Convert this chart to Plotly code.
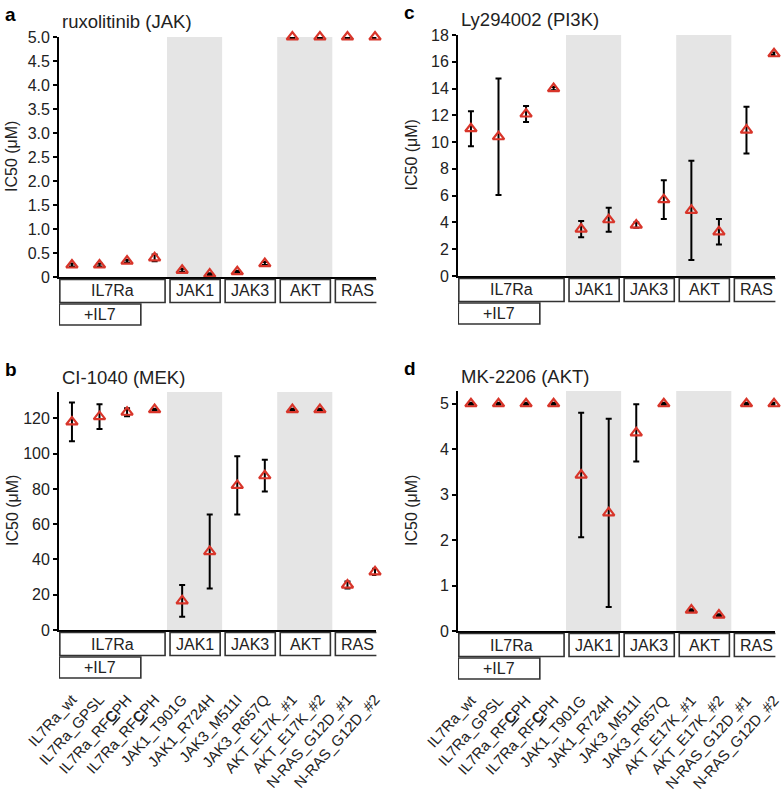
import plotly.graph_objects as go

W, H = 784, 795

# ---------------- data ----------------
cell_lines = ["IL7Ra_wt", "IL7Ra_GPSL", "IL7Ra_RF<b><u>C</u></b>PH", "IL7Ra_RF<b><u>C</u></b>PH",
              "JAK1_T901G", "JAK1_R724H", "JAK3_M511I", "JAK3_R657Q",
              "AKT_E17K_#1", "AKT_E17K_#2", "N-RAS_G12D_#1", "N-RAS_G12D_#2"]

groups = ["IL7Ra", "JAK1", "JAK3", "AKT", "RAS"]
group_first = [0, 4, 6, 8, 10]
group_last = [3, 5, 7, 9, 11]
shaded_groups = ["JAK1", "AKT"]
il7_first, il7_last = 0, 2

rux_ic50 = [0.25, 0.25, 0.33, 0.40, 0.14, 0.06, 0.11, 0.28, 5.0, 5.0, 5.0, 5.0]
rux_err = [0.03, 0.03, 0.03, 0.07, 0.03, 0.02, 0.02, 0.03, 0.02, 0.02, 0.02, 0.02]

ly_ic50 = [11.0, 10.4, 12.1, 14.0, 3.5, 4.2, 3.8, 5.7, 4.9, 3.3, 10.9, 16.6]
ly_err = [1.3, 4.35, 0.6, 0.12, 0.6, 0.9, 0.2, 1.45, 3.7, 0.95, 1.75, 0.1]

ci_ic50 = [118, 121, 123.5, 125, 16.5, 44.5, 82, 87.5, 125, 125, 25.5, 33]
ci_err = [11, 7, 2.3, 0.5, 9, 21, 16.5, 9, 0.5, 0.5, 2, 1.8]

mk_ic50 = [5.0, 5.0, 5.0, 5.0, 3.43, 2.6, 4.36, 5.0, 0.46, 0.35, 5.0, 5.0]
mk_err = [0.02, 0.02, 0.02, 0.02, 1.37, 2.07, 0.63, 0.02, 0.02, 0.02, 0.02, 0.02]

a_ticks = [0, 0.5, 1.0, 1.5, 2.0, 2.5, 3.0, 3.5, 4.0, 4.5, 5.0]
a_ticktext = ["0", "0.5", "1.0", "1.5", "2.0", "2.5", "3.0", "3.5", "4.0", "4.5", "5.0"]
c_ticks = [0, 2, 4, 6, 8, 10, 12, 14, 16, 18]
b_ticks = [0, 20, 40, 60, 80, 100, 120]
d_ticks = [0, 1, 2, 3, 4, 5]

# ---------------- layout helpers ----------------
FONT = "Liberation Sans, Arial, sans-serif"
TXT = "#222222"
RED = "#d8352a"

def fx(p):
    return p / W

def fy(p):
    return 1 - p / H

panels = [
    dict(letter="a", title="ruxolitinib (JAK)", vals=rux_ic50, errs=rux_err,
         xl=59, xr=376.4, yb=277, yt=37, yr=[0, 5.0], tv=a_ticks, tt=a_ticktext, lab=False),
    dict(letter="c", title="Ly294002 (PI3K)", vals=ly_ic50, errs=ly_err,
         xl=458, xr=775.4, yb=276, yt=35, yr=[0, 18], tv=c_ticks, tt=[str(v) for v in c_ticks], lab=False),
    dict(letter="b", title="CI-1040 (MEK)", vals=ci_ic50, errs=ci_err,
         xl=59, xr=376.4, yb=630, yt=392, yr=[0, 135], tv=b_ticks, tt=[str(v) for v in b_ticks], lab=True),
    dict(letter="d", title="MK-2206 (AKT)", vals=mk_ic50, errs=mk_err,
         xl=458, xr=775.4, yb=631, yt=391, yr=[0, 5.28], tv=d_ticks, tt=[str(v) for v in d_ticks], lab=True),
]

XR = [-0.47, 11.05]
fig = go.Figure()
shapes = []
annotations = []
xs = list(range(len(cell_lines)))

for i, p in enumerate(panels):
    n = "" if i == 0 else str(i + 1)
    xa, ya = "x" + n, "y" + n
    fig.add_trace(go.Scatter(
        x=xs, y=p["vals"], xaxis=xa, yaxis=ya, mode="markers",
        marker=dict(symbol="triangle-up-open", size=10, color=RED, line=dict(width=2.2, color=RED)),
        error_y=dict(type="data", array=p["errs"], color="black", thickness=2, width=3),
        cliponaxis=False, showlegend=False, hoverinfo="skip"))

    fig.layout["xaxis" + n] = dict(
        domain=[fx(p["xl"]), fx(p["xr"])], anchor=ya, range=XR, automargin=False,
        showgrid=False, zeroline=False, showline=True, linecolor="black", linewidth=1.8,
        ticks="outside", ticklen=4, tickwidth=1.5, tickcolor="black",
        tickvals=xs, ticktext=cell_lines, showticklabels=p["lab"],
        tickangle=-48, ticklabelstandoff=49,
        tickfont=dict(family=FONT, size=15, color=TXT))
    fig.layout["yaxis" + n] = dict(
        domain=[fy(p["yb"]), fy(p["yt"])], anchor=xa, range=p["yr"], automargin=False,
        showgrid=False, zeroline=False, showline=True, linecolor="black", linewidth=1.8,
        ticks="outside", ticklen=4, tickwidth=1.5, tickcolor="black",
        tickvals=p["tv"], ticktext=p["tt"],
        tickfont=dict(family=FONT, size=16, color=TXT))

    for g, f0, l0 in zip(groups, group_first, group_last):
        if g in shaded_groups:
            shapes.append(dict(type="rect", xref=xa, yref=ya, x0=f0 - 0.55, x1=l0 + 0.45,
                               y0=0, y1=p["yr"][1], fillcolor="#e5e5e5", line=dict(width=0), layer="below"))

    top1 = p["yb"] + 2.5
    bot1 = top1 + 23
    top2 = bot1 + 1.5
    bot2 = top2 + 21
    for g, f0, l0 in zip(groups, group_first, group_last):
        x0 = f0 - 0.44
        x1 = min(l0 + 0.38, 11.2)
        shapes.append(dict(type="rect", xref=xa, yref="paper", x0=x0, x1=x1,
                           y0=fy(bot1), y1=fy(top1), fillcolor="white",
                           line=dict(color="#333333", width=1.6)))
        annotations.append(dict(xref=xa, yref="paper", x=(x0 + x1) / 2, y=fy((top1 + bot1) / 2),
                                text=g, showarrow=False, xanchor="center", yanchor="middle",
                                font=dict(family=FONT, size=16, color=TXT)))
    x0 = il7_first - 0.46
    x1 = il7_last + 0.5
    shapes.append(dict(type="rect", xref=xa, yref="paper", x0=x0, x1=x1,
                       y0=fy(bot2), y1=fy(top2), fillcolor="white",
                       line=dict(color="#333333", width=1.6)))
    annotations.append(dict(xref=xa, yref="paper", x=(x0 + x1) / 2, y=fy((top2 + bot2) / 2),
                            text="+IL7", showarrow=False, xanchor="center", yanchor="middle",
                            font=dict(family=FONT, size=16, color=TXT)))

    annotations.append(dict(xref="paper", yref="paper", x=fx(p["xl"] - 56), y=fy(p["yt"] - 35),
                            text="<b>" + p["letter"] + "</b>", showarrow=False, xanchor="left", yanchor="top",
                            font=dict(family=FONT, size=19, color="black")))
    annotations.append(dict(xref="paper", yref="paper", x=fx(p["xl"] + 1), y=fy(p["yt"] - 15),
                            text=p["title"], showarrow=False, xanchor="left", yanchor="middle",
                            font=dict(family=FONT, size=18.5, color=TXT)))
    annotations.append(dict(xref="paper", yref="paper", x=fx(p["xl"] - 47), y=fy((p["yb"] + p["yt"]) / 2),
                            text="IC50 (μM)", textangle=-90, showarrow=False, xanchor="center", yanchor="middle",
                            font=dict(family=FONT, size=16, color=TXT)))

fig.update_layout(
    width=W, height=H, margin=dict(l=0, r=0, t=0, b=0),
    paper_bgcolor="white", plot_bgcolor="rgba(0,0,0,0)",
    shapes=shapes, annotations=annotations,
    font=dict(family=FONT, color=TXT))

fig.write_html("out.html", config={"displayModeBar": False},
               post_script="document.body.style.margin='0px';document.body.style.overflow='hidden';")
